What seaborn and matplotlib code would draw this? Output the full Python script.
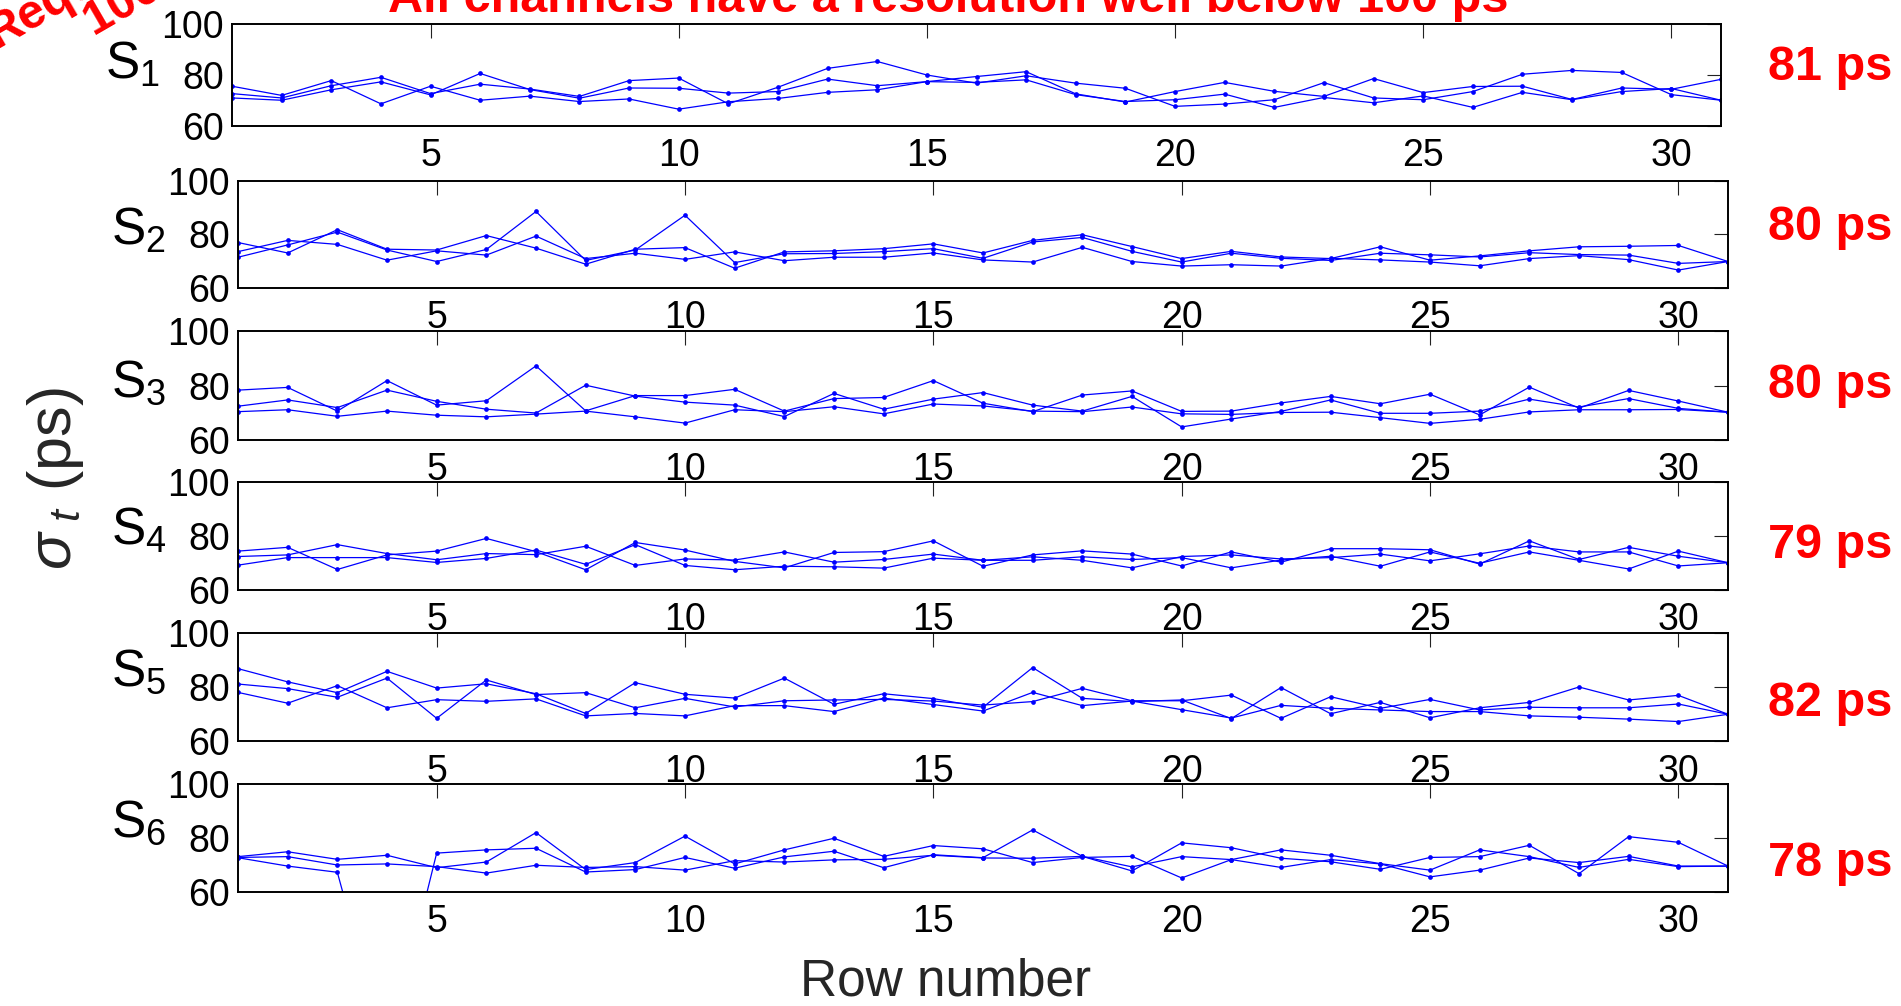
import matplotlib
matplotlib.use("Agg")
import matplotlib.pyplot as plt
import seaborn as sns
import pandas as pd

# ---------------- data ----------------
rows = list(range(1, 32))

s1_a = [75.6, 72.0, 77.8, 68.7, 75.6, 70.1, 71.7, 69.6, 70.6, 66.6, 69.5, 70.8, 73.2, 74.2, 77.4, 77.1,
        78.1, 72.3, 69.6, 70.3, 72.5, 67.3, 71.2, 69.1, 71.8, 67.3, 73.2, 70.3, 73.5, 74.7, 70.1]
s1_b = [72.7, 71.0, 75.8, 79.1, 72.7, 76.4, 74.5, 71.6, 77.8, 78.8, 68.7, 75.2, 82.6, 85.3, 80.0, 76.8,
        79.7, 76.8, 74.8, 67.7, 68.6, 70.3, 77.0, 71.0, 70.3, 73.5, 80.3, 81.8, 81.0, 72.3, 70.1]
s1_c = [71.0, 70.1, 74.2, 77.3, 72.2, 80.6, 74.3, 70.9, 74.9, 74.8, 72.9, 73.5, 78.4, 75.8, 77.4, 79.4,
        81.3, 72.6, 69.4, 73.5, 77.1, 73.6, 71.6, 78.6, 73.1, 75.5, 75.6, 70.4, 74.9, 74.4, 78.3]

s2_a = [71.5, 76.1, 80.9, 74.2, 69.9, 74.4, 88.6, 70.3, 74.2, 87.2, 69.5, 72.8, 72.9, 73.6, 74.7, 71.1,
        77.2, 78.9, 73.7, 69.7, 73.0, 71.1, 70.3, 73.0, 72.4, 71.6, 73.2, 72.5, 72.3, 69.2, 69.9]
s2_b = [77.0, 73.1, 81.8, 74.5, 74.2, 79.6, 74.9, 68.9, 74.5, 75.1, 67.4, 73.5, 73.9, 74.7, 76.5, 73.1,
        77.8, 79.9, 75.5, 71.0, 73.7, 71.6, 71.0, 75.4, 70.4, 72.0, 73.9, 75.4, 75.6, 75.9, 69.9]
s2_c = [73.6, 77.8, 76.3, 70.4, 73.9, 72.3, 79.4, 71.0, 73.0, 70.7, 73.5, 70.2, 71.5, 71.5, 73.1, 70.5,
        69.7, 75.2, 69.9, 68.2, 68.7, 68.2, 71.1, 70.5, 69.7, 68.3, 71.0, 72.1, 70.6, 66.7, 69.9]

s3_a = [78.3, 79.3, 70.6, 81.8, 72.8, 74.4, 87.2, 70.7, 76.3, 76.3, 78.6, 70.6, 75.2, 75.6, 81.8, 73.5,
        70.4, 76.5, 78.0, 70.5, 70.6, 73.6, 76.0, 73.3, 76.8, 69.2, 79.4, 71.7, 78.2, 74.3, 70.2]
s3_b = [72.4, 74.7, 71.9, 78.3, 74.2, 71.3, 69.9, 80.1, 76.1, 73.9, 72.8, 68.6, 77.1, 71.3, 75.0, 77.4,
        72.8, 70.6, 76.0, 64.8, 67.7, 70.5, 74.7, 69.8, 69.8, 70.6, 75.0, 72.1, 75.2, 71.6, 70.2]
s3_c = [70.4, 71.1, 68.7, 70.6, 69.1, 68.5, 69.5, 70.6, 68.5, 66.2, 71.1, 70.4, 72.2, 69.6, 73.2, 72.5,
        70.6, 70.4, 72.1, 69.6, 69.4, 70.1, 70.2, 68.2, 66.1, 67.6, 70.3, 71.1, 71.1, 71.2, 70.2]

s4_a = [74.4, 75.8, 67.6, 73.0, 74.4, 79.1, 74.2, 67.5, 77.6, 74.8, 70.6, 68.2, 73.9, 74.2, 78.2, 68.8,
        73.0, 74.5, 73.3, 68.9, 74.1, 70.3, 75.3, 75.3, 74.9, 69.6, 78.2, 71.3, 75.8, 72.5, 70.1]
s4_b = [72.4, 73.0, 76.8, 73.5, 71.2, 73.5, 73.1, 76.2, 69.1, 71.5, 71.1, 74.1, 70.3, 71.3, 73.3, 71.0,
        72.3, 71.0, 68.2, 72.4, 73.0, 71.5, 72.0, 73.3, 70.8, 73.4, 76.3, 74.1, 74.1, 68.9, 70.1]
s4_c = [69.2, 72.0, 72.0, 72.0, 70.2, 71.7, 74.8, 69.5, 76.8, 69.1, 67.5, 68.8, 68.6, 68.1, 71.8, 71.0,
        71.0, 72.3, 71.3, 72.0, 68.2, 71.1, 72.5, 68.8, 74.1, 69.9, 74.1, 71.0, 67.8, 74.4, 70.1]

s5_a = [86.8, 81.9, 77.9, 85.8, 79.6, 81.2, 77.5, 70.2, 81.6, 77.3, 75.9, 83.3, 73.6, 77.5, 75.7, 72.5,
        87.2, 75.8, 74.6, 75.2, 68.3, 79.8, 70.1, 74.3, 68.6, 72.3, 74.3, 80.0, 75.2, 76.9, 69.9]
s5_b = [81.1, 79.4, 76.2, 83.3, 68.4, 82.6, 77.2, 77.9, 72.3, 75.8, 72.6, 74.9, 75.2, 75.4, 74.8, 73.3,
        74.6, 79.5, 74.9, 74.9, 77.0, 68.4, 76.4, 72.1, 75.4, 71.5, 72.5, 72.3, 72.3, 73.7, 69.9]
s5_c = [78.0, 74.0, 80.5, 72.3, 75.3, 74.7, 75.6, 69.3, 70.2, 69.3, 73.1, 73.1, 70.9, 75.9, 73.5, 71.1,
        78.0, 73.1, 74.8, 71.6, 68.5, 73.2, 72.1, 71.5, 70.9, 70.9, 69.3, 68.8, 68.1, 67.2, 69.9]

s6_a = [72.7, 69.6, 67.3, 0.0, 74.4, 75.6, 76.2, 67.4, 68.3, 72.8, 68.8, 73.0, 75.1, 69.0, 73.8, 72.7,
        83.0, 73.2, 67.8, 78.2, 76.4, 72.5, 71.2, 68.4, 72.8, 73.1, 77.3, 66.8, 80.5, 78.4, 69.6]
s6_b = [73.1, 74.9, 72.1, 73.6, 69.0, 71.1, 82.0, 68.3, 70.9, 80.7, 70.4, 75.6, 79.9, 73.2, 77.2, 76.0,
        70.9, 72.8, 73.2, 65.2, 72.0, 75.6, 73.6, 70.5, 68.1, 75.6, 73.1, 69.1, 72.1, 69.4, 69.6]
s6_c = [72.8, 73.1, 70.0, 70.4, 69.4, 67.0, 69.9, 69.1, 69.4, 68.1, 71.6, 71.1, 71.9, 72.1, 73.6, 72.6,
        72.5, 73.2, 69.3, 73.1, 72.0, 69.1, 72.0, 70.4, 65.6, 68.1, 72.6, 70.9, 73.2, 69.6, 69.6]

panels = [[s1_a, s1_b, s1_c], [s2_a, s2_b, s2_c], [s3_a, s3_b, s3_c],
          [s4_a, s4_b, s4_c], [s5_a, s5_b, s5_c], [s6_a, s6_b, s6_c]]
station_names = ["1", "2", "3", "4", "5", "6"]
resolutions = ["81 ps", "80 ps", "80 ps", "79 ps", "82 ps", "78 ps"]
x_ticks = [5, 10, 15, 20, 25, 30]
y_ticks = [60, 80, 100]
title_text = "All channels have a resolution well below 100 ps"
req_line1 = "Requirement:"
req_line2 = "100 ps"
x_label = "Row number"
y_label = r"$\sigma_{\ t}$ (ps)"

# ---------------- style ----------------
sns.set_theme(style="white")
plt.rcParams["font.family"] = ["Liberation Sans", "DejaVu Sans"]
plt.rcParams["mathtext.fontset"] = "custom"
plt.rcParams["mathtext.rm"] = "Liberation Sans"
plt.rcParams["mathtext.it"] = "Liberation Sans:italic"
plt.rcParams["mathtext.sf"] = "Liberation Sans"

W, H = 1901, 1006
fig = plt.figure(figsize=(W / 100, H / 100), dpi=100)
fig.patch.set_facecolor("white")

# axes boxes in pixels: left, top, right, bottom
boxes = [(232, 24, 1721, 126), (238, 181, 1728, 288), (238, 331, 1728, 440),
         (238, 482, 1728, 590), (238, 633, 1728, 741), (238, 784, 1728, 892)]
s_label_y = [0.60, 0.53, 0.52, 0.55, 0.64, 0.64]
red_label_y = [67, 227, 386, 546, 703, 864]

BLUE = "#0000ff"

for i, (box, series) in enumerate(zip(boxes, panels)):
    l, t, r, b = box
    ax = fig.add_axes([l / W, 1 - b / H, (r - l) / W, (b - t) / H])
    for vals in series:
        df = pd.DataFrame({"row": rows, "sigma": vals})
        sns.lineplot(data=df, x="row", y="sigma", ax=ax, color=BLUE, lw=0.9,
                     marker="o", markersize=3.4, markeredgewidth=0,
                     errorbar=None, legend=False)
    ax.set_xlim(1, 31)
    ax.set_ylim(60, 100)
    ax.set_xticks(x_ticks)
    ax.set_yticks(y_ticks)
    ax.set_xlabel("")
    ax.set_ylabel("")
    ax.tick_params(axis="both", direction="in", length=10, width=0.8, color="#222222",
                   top=True, right=True, labelsize=27, labelcolor="black")
    ax.tick_params(axis="x", pad=9)
    ax.tick_params(axis="y", pad=6)
    for sp in ax.spines.values():
        sp.set_visible(True)
        sp.set_color("black")
        sp.set_linewidth(1.4)
    ax.text(-0.085, s_label_y[i], r"$\mathregular{S_{%s}}$" % station_names[i],
            transform=ax.transAxes, fontsize=37, ha="left", va="center", color="black")
    fig.text(1768 / W, 1 - red_label_y[i] / H, resolutions[i], color="red",
             fontsize=35, fontweight="bold", ha="left", va="center")

# labels
fig.text(946 / W, 1 - 982 / H, x_label, fontsize=37, ha="center", va="center")
fig.text(55 / W, 1 - 479 / H, y_label, fontsize=44, rotation=90, ha="center", va="center")

# clipped title and rotated requirement note at the top
fig.text(948 / W, 1 - 12 / H, title_text, color="red", fontsize=35, fontweight="bold",
         ha="center", va="baseline")
fig.text(-3 / W, 1 - 48 / H, req_line1, color="red", fontsize=35, fontweight="bold",
         ha="left", va="baseline", rotation=30, rotation_mode="anchor")
fig.text(94 / W, 1 - 36 / H, req_line2, color="red", fontsize=35, fontweight="bold",
         ha="left", va="baseline", rotation=30, rotation_mode="anchor")

fig.savefig("out.png", dpi=100, facecolor="white")
